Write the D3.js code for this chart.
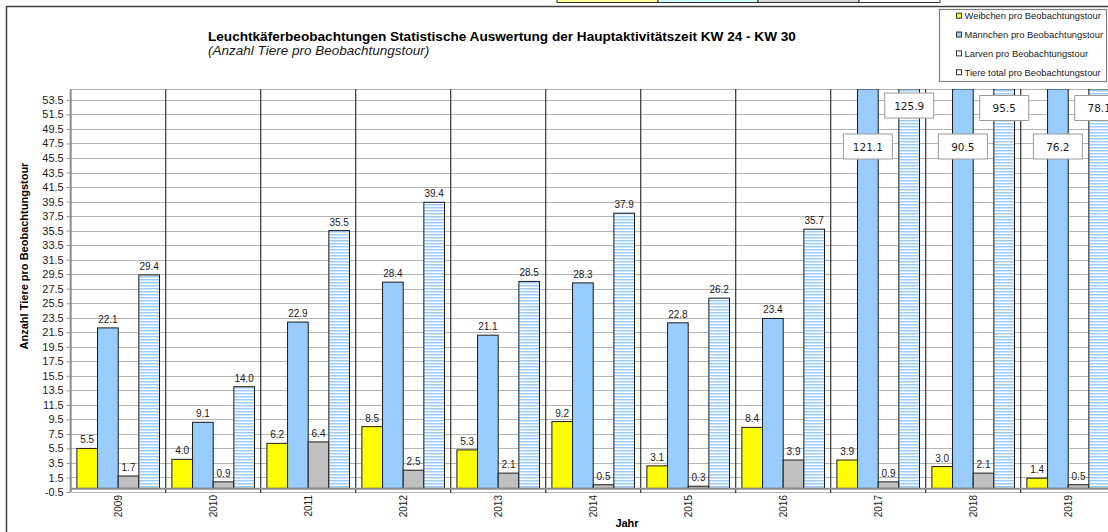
<!DOCTYPE html>
<html>
<head>
<meta charset="utf-8">
<script src="https://cdn.jsdelivr.net/npm/d3@7"></script>
<style>
  html, body { margin: 0; padding: 0; background: #fff; }
  svg { display: block; font-family: "Liberation Sans", Arial, sans-serif; }
</style>
</head>
<body>
<svg id="chart" width="1108" height="532"></svg>
<script>
// ---- data ----
const years = ["2009","2010","2011","2012","2013","2014","2015","2016","2017","2018","2019"];
const weibchen = [5.5, 4.0, 6.2, 8.5, 5.3, 9.2, 3.1, 8.4, 3.9, 3.0, 1.4];
const maennchen = [22.1, 9.1, 22.9, 28.4, 21.1, 28.3, 22.8, 23.4, 121.1, 90.5, 76.2];
const larven = [1.7, 0.9, 6.4, 2.5, 2.1, 0.5, 0.3, 3.9, 0.9, 2.1, 0.5];
const total = [29.4, 14.0, 35.5, 39.4, 28.5, 37.9, 26.2, 35.7, 125.9, 95.5, 78.1];
const seriesNames = ["Weibchen pro Beobachtungstour", "Männchen pro Beobachtungstour",
                     "Larven pro Beobachtungstour", "Tiere total pro Beobachtungstour"];
const yTicks = d3.range(-0.5, 54, 2);
const yMin = -0.5, yMax = 55;

const title = "Leuchtkäferbeobachtungen Statistische Auswertung der Hauptaktivitätszeit KW 24 - KW 30";
const subtitle = "(Anzahl Tiere pro Beobachtungstour)";
const yTitle = "Anzahl Tiere pro Beobachtungstour";
const xTitle = "Jahr";

const seriesValues = [weibchen, maennchen, larven, total];
const fills = ["#FFFF00", "#99CCFF", "#C0C0C0", "url(#stripes)"];

// ---- layout ----
const svg = d3.select("#chart");
const plot = { left: 70.7, top: 89, bottom: 492, bandW: 95 };
plot.right = plot.left + plot.bandW * years.length;

const defs = svg.append("defs");
const pat = defs.append("pattern").attr("id", "stripes").attr("patternUnits", "userSpaceOnUse")
  .attr("width", 6).attr("height", 3);
pat.append("rect").attr("width", 6).attr("height", 3).attr("fill", "#ffffff");
pat.append("rect").attr("y", 0).attr("width", 6).attr("height", 1.5).attr("fill", "#99CCFF");
defs.append("clipPath").attr("id", "plotclip").append("rect")
  .attr("x", plot.left).attr("y", plot.top).attr("width", plot.right - plot.left)
  .attr("height", plot.bottom - plot.top);

// top table strip
const stripCells = [["#FFFF99", 557, 658], ["#CCFFFF", 658, 758], ["#D8D8D8", 758, 859], ["#FFFFFF", 859, 940]];
svg.selectAll("rect.strip").data(stripCells).join("rect").attr("class", "strip")
  .attr("x", d => d[1]).attr("y", -2).attr("width", d => d[2] - d[1]).attr("height", 4.5)
  .attr("fill", d => d[0]).attr("stroke", "#333").attr("stroke-width", 1);

// outer chart border
svg.append("rect").attr("x", 6.5).attr("y", 6.5).attr("width", 1200).attr("height", 600)
  .attr("fill", "none").attr("stroke", "#404040").attr("stroke-width", 1.5);

const x = d3.scaleBand().domain(years).range([plot.left, plot.right]).padding(0);
const xs = d3.scaleBand().domain(d3.range(4)).range([0, x.bandwidth()]).paddingInner(0).paddingOuter(0.3);
const y = d3.scaleLinear().domain([yMin, yMax]).range([plot.bottom, plot.top]);

// horizontal gridlines
svg.append("g").selectAll("line").data(yTicks).join("line")
  .attr("x1", plot.left).attr("x2", plot.right)
  .attr("y1", d => Math.round(y(d)) + 0.5).attr("y2", d => Math.round(y(d)) + 0.5)
  .attr("stroke", "#B4B4B4").attr("stroke-width", 1);
svg.append("line").attr("x1", plot.left).attr("x2", plot.right)
  .attr("y1", plot.top + 0.5).attr("y2", plot.top + 0.5).attr("stroke", "#B4B4B4");

// bars
const gBars = svg.append("g").attr("clip-path", "url(#plotclip)");
seriesValues.forEach((vals, si) => {
  gBars.selectAll("rect.s" + si).data(vals).join("rect").attr("class", "s" + si)
    .attr("x", (d, i) => x(years[i]) + xs(si))
    .attr("width", xs.bandwidth())
    .attr("y", d => y(Math.min(d, yMax)))
    .attr("height", d => y(0) - y(Math.min(d, yMax)))
    .attr("fill", fills[si])
    .attr("stroke", "#1a1a1a").attr("stroke-width", 1);
});

// category separators (vertical gridlines with tick marks)
svg.append("g").selectAll("line").data(years.slice(1)).join("line")
  .attr("x1", d => x(d)).attr("x2", d => x(d))
  .attr("y1", plot.top).attr("y2", plot.bottom + 1)
  .attr("stroke", "#333").attr("stroke-width", 1.2);

// category axis line at 0
svg.append("line").attr("x1", plot.left).attr("x2", plot.right)
  .attr("y1", y(0) + 0.5).attr("y2", y(0) + 0.5)
  .attr("stroke", "#8C8C8C").attr("stroke-width", 2);

// y axis
const yAxis = d3.axisLeft(y).tickValues(yTicks).tickSize(4).tickPadding(3).tickFormat(d => d.toFixed(1));
const gy = svg.append("g").attr("transform", `translate(${plot.left},0)`).call(yAxis);
gy.select(".domain").attr("stroke", "#8C8C8C").attr("stroke-width", 2)
  .attr("d", `M0,${plot.top}V${plot.bottom}`);
gy.selectAll(".tick line").attr("stroke", "#8C8C8C");
gy.selectAll(".tick text").attr("font-size", 11).attr("fill", "#1a1a1a")
  .attr("font-family", "Liberation Sans, Arial, sans-serif");

// x labels
svg.append("g").selectAll("text").data(years).join("text")
  .attr("transform", d => `translate(${x(d) + x.bandwidth() / 2 + 3.6},${plot.bottom + 3}) rotate(-90)`)
  .attr("text-anchor", "end").attr("font-size", 10).attr("fill", "#1a1a1a").text(d => d);

// value labels
const gLab = svg.append("g");
seriesValues.forEach((vals, si) => {
  vals.forEach((v, i) => {
    const cx = x(years[i]) + xs(si) + xs.bandwidth() / 2;
    if (v <= yMax) {
      gLab.append("text").attr("x", cx).attr("y", y(v) - 5)
        .attr("text-anchor", "middle").attr("font-size", 10).attr("fill", "#1a1a1a")
        .text(v.toFixed(1));
    } else {
      const cy = si === 1 ? plot.top + 57.5 : plot.top + (i === 8 ? 16.5 : 19);
      gLab.append("rect").attr("x", cx - 24.5).attr("y", cy - 12.5).attr("width", 49).attr("height", 25)
        .attr("fill", "#fff").attr("stroke", "#9a9a9a").attr("stroke-width", 1);
      gLab.append("text").attr("x", cx).attr("y", cy + 4)
        .attr("text-anchor", "middle").attr("font-size", 10.5).attr("fill", "#1a1a1a")
        .attr("font-family", "DejaVu Sans, sans-serif")
        .text(v.toFixed(1));
    }
  });
});

// titles
svg.append("text").attr("x", 208).attr("y", 41).attr("font-size", 13.6).attr("font-weight", "bold")
  .attr("fill", "#000").text(title);
svg.append("text").attr("x", 208).attr("y", 55).attr("font-size", 13.5).attr("font-style", "italic")
  .attr("fill", "#1a1a1a").text(subtitle);
svg.append("text").attr("transform", `translate(27.5,256) rotate(-90)`).attr("text-anchor", "middle")
  .attr("font-size", 11).attr("font-weight", "bold").attr("fill", "#000").text(yTitle);
svg.append("text").attr("x", 627).attr("y", 527).attr("text-anchor", "middle")
  .attr("font-size", 11).attr("font-weight", "bold").attr("fill", "#000").text(xTitle);

// legend
const lg = svg.append("g");
lg.append("rect").attr("x", 939.5).attr("y", 9.5).attr("width", 167).attr("height", 72)
  .attr("fill", "#fff").attr("stroke", "#808080").attr("stroke-width", 1.2);
const legFills = ["#FFFF00", "#99CCFF", "#FFFFFF", "#FFFFFF"];
const legStroke = ["#333", "#333", "#333", "#333"];
seriesNames.forEach((n, i) => {
  const ry = 15.7 + i * 18.85;
  lg.append("rect").attr("x", 956.5).attr("y", ry - 2.5).attr("width", 5).attr("height", 5)
    .attr("fill", legFills[i]).attr("stroke", legStroke[i]).attr("stroke-width", 1);
  lg.append("text").attr("x", 964.5).attr("y", ry + 3.3).attr("font-size", 9.4).attr("fill", "#1a1a1a").text(n);
});
</script>
</body>
</html>
